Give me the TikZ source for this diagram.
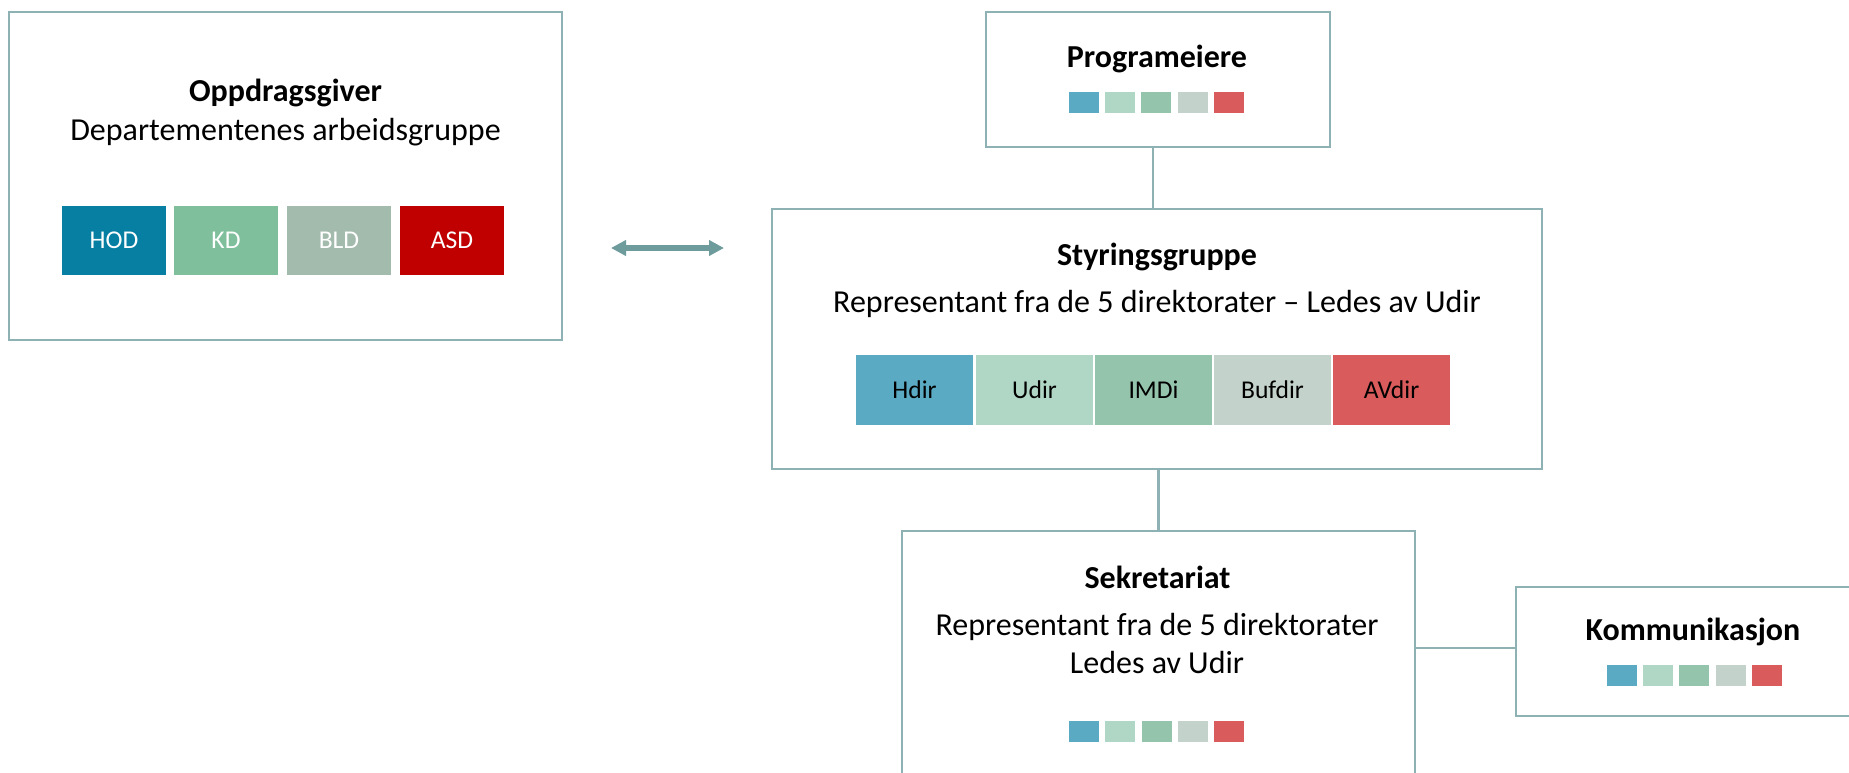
\documentclass[tikz,border=0pt]{standalone}
\usepackage{fontspec}
\setmainfont{Carlito}
\usetikzlibrary{arrows.meta}
\definecolor{bordercol}{HTML}{8EB2B4}
\definecolor{arrowcol}{HTML}{6E9B9B}
\definecolor{cHOD}{HTML}{067FA3}
\definecolor{cKD}{HTML}{7FBF9C}
\definecolor{cBLD}{HTML}{A3BBAD}
\definecolor{cASD}{HTML}{C00000}
\definecolor{cHdir}{HTML}{5BAAC3}
\definecolor{cUdir}{HTML}{B0D7C5}
\definecolor{cIMDi}{HTML}{94C4AC}
\definecolor{cBufdir}{HTML}{C3D3CB}
\definecolor{cAVdir}{HTML}{D95B5B}
\tikzset{
  panel/.style={draw=bordercol, line width=1.2pt, fill=white, inner sep=0pt},
  conn/.style={draw=bordercol, line width=1.1pt},
  titletxt/.style={anchor=base, inner sep=0pt, font=\fontsize{16}{19.2}\selectfont\bfseries},
  subtxt/.style={anchor=base, inner sep=0pt, font=\fontsize{16}{19.2}\selectfont},
  chipA/.style={inner sep=0pt, minimum width=52pt, minimum height=34.5pt, text=white, font=\fontsize{12.8}{15}\selectfont},
  chipB/.style={inner sep=0pt, minimum width=58.5pt, minimum height=35pt, text=black, font=\fontsize{12.8}{15}\selectfont},
  sq/.style={inner sep=0pt, minimum width=15pt, minimum height=10.5pt},
  dblarrow/.style={draw=arrowcol, line width=3pt, {Triangle[length=7.5pt,width=7.5pt]}-{Triangle[length=7.5pt,width=7.5pt]}}
}
\begin{document}
\begin{tikzpicture}[x=0.5pt,y=-0.5pt]
\useasboundingbox (0,0) rectangle (1849,772);
\clip (0,0) rectangle (1849,772);
\fill[white] (0,0) rectangle (1849,772);

% Panels
\node[panel, minimum width=276.5pt, minimum height=164pt] (opp) at (285.5,176) {};
\node[panel, minimum width=172pt, minimum height=67.5pt] (prog) at (1158,79.5) {};
\node[panel, minimum width=385pt, minimum height=130pt] (styr) at (1157,339) {};
\node[panel, minimum width=256.5pt, minimum height=200pt] (sek) at (1158.5,731) {};
\node[panel, minimum width=177pt, minimum height=64.5pt] (kom) at (1693,651.5) {};

% Connectors
\coordinate (progout) at ([xshift=-2.5pt]prog.south);
\coordinate (komin) at ([yshift=1.75pt]kom.west);
\draw[conn] (progout) -- (progout |- styr.north);
\draw[conn] (sek.north |- styr.south) -- (sek.north);
\draw[conn] (sek.east |- komin) -- (komin);

% Double arrow
\coordinate (arrL) at (611,248);
\coordinate (arrR) at (724,248);
\draw[dblarrow] (arrL) -- (arrR);

% Oppdragsgiver
\node[titletxt] (oppT) at (285.5,101) {Oppdragsgiver};
\node[subtxt] (oppS) at (285.5,140) {Departementenes arbeidsgruppe};
\node[chipA, fill=cHOD] (hod) at (114,240.5) {HOD};
\node[chipA, fill=cKD] (kd) at (226,240.5) {KD};
\node[chipA, fill=cBLD] (bld) at (339,240.5) {BLD};
\node[chipA, fill=cASD] (asd) at (452,240.5) {ASD};

% Programeiere
\node[titletxt] (progT) at (1157,67) {Programeiere};
\node[sq, fill=cHdir] (p1) at (1083.5,102) {};
\node[sq, fill=cUdir] (p2) at (1119.5,102) {};
\node[sq, fill=cIMDi] (p3) at (1156,102) {};
\node[sq, fill=cBufdir] (p4) at (1192.5,102) {};
\node[sq, fill=cAVdir] (p5) at (1229,102) {};

% Styringsgruppe
\node[titletxt] (styrT) at (1157,265) {Styringsgruppe};
\node[subtxt] (styrS) at (1157,312) {Representant fra de 5 direktorater – Ledes av Udir};
\node[chipB, fill=cHdir] (hdir) at (914.5,390) {Hdir};
\node[chipB, fill=cUdir] (udir) at (1034.5,390) {Udir};
\node[chipB, fill=cIMDi] (imdi) at (1153.5,390) {IMDi};
\node[chipB, fill=cBufdir] (bufdir) at (1272.5,390) {Bufdir};
\node[chipB, fill=cAVdir] (avdir) at (1391.5,390) {AVdir};

% Sekretariat
\node[titletxt] (sekT) at (1157.5,588) {Sekretariat};
\node[subtxt] (sekS1) at (1157,635) {Representant fra de 5 direktorater};
\node[subtxt] (sekS2) at (1157,673) {Ledes av Udir};
\node[sq, fill=cHdir] (s1) at (1084,731.5) {};
\node[sq, fill=cUdir] (s2) at (1120,731.5) {};
\node[sq, fill=cIMDi] (s3) at (1157,731.5) {};
\node[sq, fill=cBufdir] (s4) at (1193,731.5) {};
\node[sq, fill=cAVdir] (s5) at (1229,731.5) {};

% Kommunikasjon
\node[titletxt] (komT) at (1693,640) {Kommunikasjon};
\node[sq, fill=cHdir] (k1) at (1622,675.5) {};
\node[sq, fill=cUdir] (k2) at (1658,675.5) {};
\node[sq, fill=cIMDi] (k3) at (1694,675.5) {};
\node[sq, fill=cBufdir] (k4) at (1731,675.5) {};
\node[sq, fill=cAVdir] (k5) at (1767,675.5) {};
\end{tikzpicture}
\end{document}
